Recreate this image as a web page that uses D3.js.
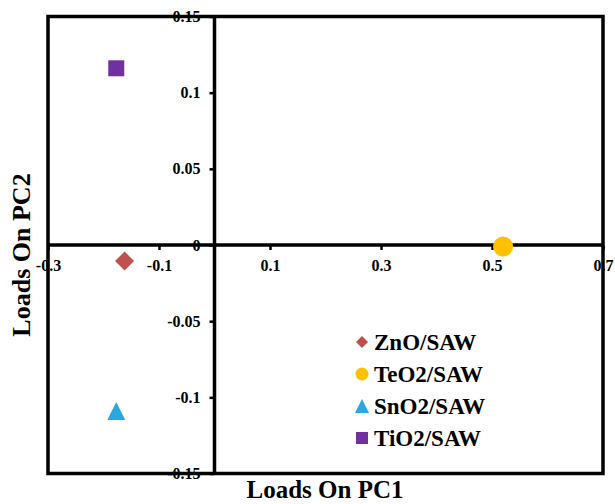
<!DOCTYPE html>
<html>
<head>
<meta charset="utf-8">
<script src="https://cdn.jsdelivr.net/npm/d3@7"></script>
<style>
  html, body { margin: 0; padding: 0; background: #fff; }
  svg text { font-family: "Liberation Serif", "Times New Roman", serif; font-weight: bold; fill: #000; }
</style>
</head>
<body>
<svg id="chart" width="615" height="504"></svg>
<script>
// PCA loadings of the four sensor coatings
const samples = ["ZnO/SAW", "TeO2/SAW", "SnO2/SAW", "TiO2/SAW"];
const pc1 = [-0.162, 0.520, -0.177, -0.177];
const pc2 = [-0.0105, -0.001, -0.109, 0.116];
const colors = ["#C0504D", "#FFC000", "#29A8E0", "#7030A0"];

const xTicks = [-0.3, -0.1, 0.1, 0.3, 0.5, 0.7];
const xTickLabels = ["-0.3", "-0.1", "0.1", "0.3", "0.5", "0.7"];
const yTicks = [-0.15, -0.1, -0.05, 0, 0.05, 0.1, 0.15];
const yTickLabels = ["-0.15", "-0.1", "-0.05", "0", "0.05", "0.1", "0.15"];

const svg = d3.select("#chart");
const x = d3.scaleLinear().domain([-0.3, 0.7]).range([48, 603]);
const y = d3.scaleLinear().domain([-0.15, 0.15]).range([473.5, 16.5]);

// marker shapes
const diamond = { draw(ctx, size) { const r = Math.sqrt(size) / 2; ctx.moveTo(0, -r); ctx.lineTo(r, 0); ctx.lineTo(0, r); ctx.lineTo(-r, 0); ctx.closePath(); } };
const square = { draw(ctx, size) { const r = Math.sqrt(size) / 2; ctx.rect(-r, -r, 2 * r, 2 * r); } };
const triangle = { draw(ctx, size) { const r = Math.sqrt(size) / 2; ctx.moveTo(0, -r); ctx.lineTo(r, r); ctx.lineTo(-r, r); ctx.closePath(); } };
const circle = { draw(ctx, size) { const r = Math.sqrt(size) / 2; ctx.moveTo(r, 0); ctx.arc(0, 0, r, 0, 2 * Math.PI); } };
const shapes = [diamond, circle, triangle, square];
const plotSizes = [19 * 19, 20 * 20, 18 * 18, 16 * 16];
const legendSizes = [12 * 12, 13 * 13, 14 * 14, 12 * 12];

// x axis through y = 0
const xAxis = d3.axisBottom(x).tickValues(xTicks)
  .tickFormat((d, i) => xTickLabels[i]).tickSize(5).tickSizeOuter(0).tickPadding(10);
const gx = svg.append("g").attr("transform", `translate(0,${y(0)})`).call(xAxis);
gx.select(".domain").remove();
gx.selectAll(".tick line").attr("stroke", "#000").attr("stroke-width", 2.5);
gx.selectAll(".tick text").attr("font-size", 16).attr("font-family", "Liberation Serif").attr("font-weight", "bold");

// y axis through x = 0
const yAxis = d3.axisLeft(y).tickValues(yTicks)
  .tickFormat((d, i) => yTickLabels[i]).tickSize(5).tickSizeOuter(0).tickPadding(9);
const gy = svg.append("g").attr("transform", `translate(${x(0)},0)`).call(yAxis);
gy.select(".domain").remove();
gy.selectAll(".tick line").attr("stroke", "#000").attr("stroke-width", 2.5);
gy.selectAll(".tick text").attr("font-size", 16).attr("font-family", "Liberation Serif").attr("font-weight", "bold");

// plot frame and zero lines
svg.append("rect")
  .attr("x", x(-0.3)).attr("y", y(0.15))
  .attr("width", x(0.7) - x(-0.3)).attr("height", y(-0.15) - y(0.15))
  .attr("fill", "none").attr("stroke", "#000").attr("stroke-width", 3.5);
svg.append("line").attr("x1", x(-0.3)).attr("x2", x(0.7)).attr("y1", y(0)).attr("y2", y(0))
  .attr("stroke", "#000").attr("stroke-width", 3.5);
svg.append("line").attr("x1", x(0)).attr("x2", x(0)).attr("y1", y(0.15)).attr("y2", y(-0.15))
  .attr("stroke", "#000").attr("stroke-width", 3.5);

// points
svg.append("g").selectAll("path").data(samples).join("path")
  .attr("transform", (d, i) => `translate(${x(pc1[i])},${y(pc2[i])})`)
  .attr("d", (d, i) => d3.symbol().type(shapes[i]).size(plotSizes[i])())
  .attr("fill", (d, i) => colors[i]);

// legend
const legend = svg.append("g").attr("transform", "translate(362,342)");
const rows = legend.selectAll("g").data(samples).join("g")
  .attr("transform", (d, i) => `translate(0,${i * 32})`);
rows.append("path")
  .attr("d", (d, i) => d3.symbol().type(shapes[i]).size(legendSizes[i])())
  .attr("fill", (d, i) => colors[i]);
rows.append("text").attr("x", 12).attr("y", 8).attr("font-size", 23).text(d => d);

// axis titles
svg.append("text").attr("x", 325).attr("y", 498).attr("text-anchor", "middle")
  .attr("font-size", 25).text("Loads On PC1");
svg.append("text").attr("transform", "translate(30,255) rotate(-90)").attr("text-anchor", "middle")
  .attr("font-size", 26).text("Loads On PC2");
</script>
</body>
</html>
